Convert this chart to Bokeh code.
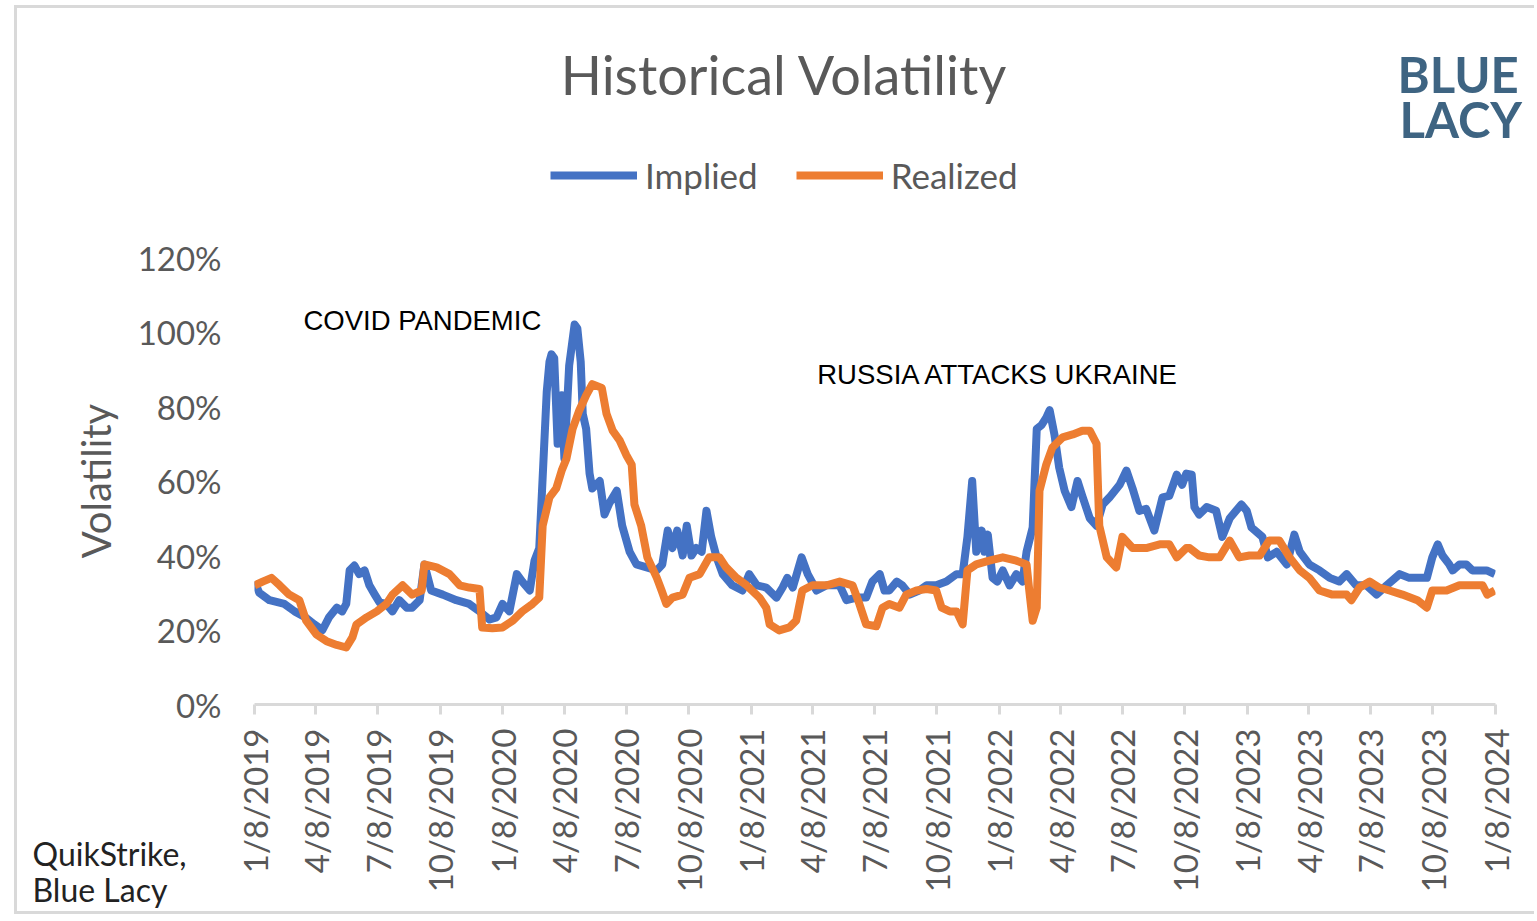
import math
from datetime import datetime
from bokeh.plotting import figure
from bokeh.layouts import row, column
from bokeh.models import (Range1d, FixedTicker, CustomJSTickFormatter, PrintfTickFormatter,
                          Legend, LegendItem, Label)
from bokeh.embed import file_html
from bokeh.resources import INLINE

# ---------------- data ----------------
tick_labels = ["1/8/2019", "4/8/2019", "7/8/2019", "10/8/2019", "1/8/2020", "4/8/2020",
               "7/8/2020", "10/8/2020", "1/8/2021", "4/8/2021", "7/8/2021", "10/8/2021",
               "1/8/2022", "4/8/2022", "7/8/2022", "10/8/2022", "1/8/2023", "4/8/2023",
               "7/8/2023", "10/8/2023", "1/8/2024"]
y_ticks = [0, 20, 40, 60, 80, 100, 120]

implied_dates = [
    "2019-01-08", "2019-01-15", "2019-01-30", "2019-02-21", "2019-03-08", "2019-03-23", "2019-04-06",
    "2019-04-18", "2019-04-28", "2019-05-09", "2019-05-17", "2019-05-23", "2019-05-28", "2019-06-04",
    "2019-06-11", "2019-06-19", "2019-06-26", "2019-07-04", "2019-07-11", "2019-07-21", "2019-07-30",
    "2019-08-09", "2019-08-20", "2019-08-28", "2019-09-08", "2019-09-15", "2019-09-25", "2019-10-12",
    "2019-11-01", "2019-11-20", "2019-12-05", "2019-12-20", "2019-12-30", "2020-01-08", "2020-01-18",
    "2020-01-29", "2020-02-06", "2020-02-17", "2020-02-24", "2020-03-02", "2020-03-07", "2020-03-13",
    "2020-03-17", "2020-03-20", "2020-03-24", "2020-03-29", "2020-04-04", "2020-04-08", "2020-04-15",
    "2020-04-23", "2020-04-27", "2020-05-02", "2020-05-05", "2020-05-10", "2020-05-15", "2020-05-19",
    "2020-05-30", "2020-06-06", "2020-06-13", "2020-06-24", "2020-07-02", "2020-07-13", "2020-07-23",
    "2020-08-07", "2020-08-22", "2020-08-30", "2020-09-07", "2020-09-14", "2020-09-21", "2020-09-29",
    "2020-10-05", "2020-10-12", "2020-10-19", "2020-10-27", "2020-11-03", "2020-11-10", "2020-11-18",
    "2020-11-27", "2020-12-11", "2020-12-26", "2021-01-05", "2021-01-16", "2021-01-30", "2021-02-14",
    "2021-02-23", "2021-03-02", "2021-03-10", "2021-03-23", "2021-04-01", "2021-04-14", "2021-04-29",
    "2021-05-18", "2021-05-28", "2021-06-12", "2021-06-26", "2021-07-05", "2021-07-16", "2021-07-23",
    "2021-07-30", "2021-08-10", "2021-08-18", "2021-08-29", "2021-09-12", "2021-09-23", "2021-10-07",
    "2021-10-22", "2021-11-06", "2021-11-15", "2021-11-22", "2021-11-29", "2021-12-05", "2021-12-13",
    "2021-12-17", "2021-12-22", "2021-12-29", "2022-01-05", "2022-01-13", "2022-01-23", "2022-02-02",
    "2022-02-11", "2022-02-17", "2022-02-26", "2022-03-04", "2022-03-11", "2022-03-18", "2022-03-23",
    "2022-03-30", "2022-04-06", "2022-04-14", "2022-04-24", "2022-05-03", "2022-05-10", "2022-05-21",
    "2022-05-31", "2022-06-09", "2022-06-19", "2022-07-04", "2022-07-14", "2022-07-23", "2022-08-02",
    "2022-08-12", "2022-08-24", "2022-09-05", "2022-09-15", "2022-09-26", "2022-10-04", "2022-10-10",
    "2022-10-18", "2022-10-22", "2022-10-29", "2022-11-09", "2022-11-23", "2022-12-02", "2022-12-13",
    "2022-12-30", "2023-01-07", "2023-01-14", "2023-01-30", "2023-02-07", "2023-02-20", "2023-03-07",
    "2023-03-18", "2023-03-26", "2023-04-09", "2023-04-24", "2023-05-09", "2023-05-23", "2023-06-03",
    "2023-06-17", "2023-07-02", "2023-07-17", "2023-08-01", "2023-08-20", "2023-09-03", "2023-09-18",
    "2023-09-29", "2023-10-07", "2023-10-15", "2023-10-22", "2023-11-01", "2023-11-06", "2023-11-16",
    "2023-11-26", "2023-12-05", "2023-12-26", "2024-01-07"]
implied_vals = [
    33, 30, 28, 27, 25, 23.5, 21.5,
    20, 23.5, 26, 25, 27, 36, 37.3,
    35, 36, 32, 29.5, 27.4, 27, 25,
    28, 26, 26, 28, 37.6, 30.6, 29.5,
    28, 27, 25, 22.8, 23.4, 27, 25,
    35, 33, 30.6, 38.6, 42, 61, 84,
    92, 94, 93, 70, 83, 66, 91,
    102, 101, 92, 78, 74, 62, 58,
    60, 51, 54, 57.4, 48, 41, 37.6,
    36.8, 36, 37.6, 46.7, 42, 46.7, 40,
    48, 40, 42, 41, 52, 45, 39.5,
    35, 32, 30.6, 35, 32, 31.4, 28.7,
    31.4, 34, 31.4, 39.5, 35, 30.6, 32,
    32, 28, 28.7, 28.7, 33, 35, 30.6,
    30.6, 33, 32, 29.5, 30.6, 32, 32,
    33, 35, 35, 45, 60, 41, 46.7,
    41, 45.6, 34, 33, 36, 32, 35,
    33, 41, 47.5, 74, 75, 77, 79,
    72.5, 63.6, 57.4, 53, 60, 56, 50,
    48, 53.7, 55.6, 59, 62.8, 58, 52,
    52.5, 46.7, 55.6, 56, 61.7, 59, 62,
    61.7, 53, 51, 53, 52, 45, 50,
    53.7, 52, 47.5, 45, 39.5, 41, 37.6,
    45.6, 41, 37.6, 36, 34, 33, 35,
    32, 32, 29.5, 32, 35, 34, 34,
    34, 39.5, 43, 40, 37.6, 36, 37.6,
    37.6, 36, 36, 35]

realized_dates = [
    "2019-01-08", "2019-01-20", "2019-02-02", "2019-02-14", "2019-02-28", "2019-03-15", "2019-03-25",
    "2019-04-09", "2019-04-24", "2019-05-09", "2019-05-23", "2019-06-01", "2019-06-07", "2019-06-22",
    "2019-07-07", "2019-07-21", "2019-07-30", "2019-08-14", "2019-08-28", "2019-09-11", "2019-09-15",
    "2019-10-03", "2019-10-22", "2019-11-06", "2019-11-20", "2019-12-05", "2019-12-09", "2019-12-24",
    "2020-01-08", "2020-01-23", "2020-02-06", "2020-02-21", "2020-03-02", "2020-03-07", "2020-03-17",
    "2020-03-27", "2020-04-04", "2020-04-11", "2020-04-20", "2020-04-30", "2020-05-10", "2020-05-19",
    "2020-06-02", "2020-06-09", "2020-06-18", "2020-06-28", "2020-07-08", "2020-07-16", "2020-07-20",
    "2020-07-30", "2020-08-08", "2020-08-22", "2020-08-29", "2020-09-05", "2020-09-14", "2020-09-29",
    "2020-10-09", "2020-10-24", "2020-11-07", "2020-11-22", "2020-12-02", "2020-12-17", "2021-01-01",
    "2021-01-20", "2021-01-30", "2021-02-04", "2021-02-18", "2021-03-05", "2021-03-15", "2021-03-24",
    "2021-04-08", "2021-04-29", "2021-05-18", "2021-06-06", "2021-06-16", "2021-06-26", "2021-07-11",
    "2021-07-20", "2021-07-30", "2021-08-14", "2021-08-24", "2021-09-08", "2021-09-23", "2021-10-07",
    "2021-10-15", "2021-10-27", "2021-11-06", "2021-11-15", "2021-11-22", "2021-12-05", "2021-12-24",
    "2022-01-13", "2022-02-02", "2022-02-17", "2022-02-21", "2022-02-26", "2022-03-04", "2022-03-08",
    "2022-03-18", "2022-03-27", "2022-04-11", "2022-04-26", "2022-05-10", "2022-05-21", "2022-05-31",
    "2022-06-04", "2022-06-15", "2022-06-29", "2022-07-08", "2022-07-23", "2022-08-12", "2022-09-01",
    "2022-09-15", "2022-09-26", "2022-10-10", "2022-10-15", "2022-10-29", "2022-11-13", "2022-11-28",
    "2022-12-13", "2022-12-27", "2023-01-11", "2023-01-26", "2023-02-09", "2023-02-24", "2023-03-11",
    "2023-03-26", "2023-04-09", "2023-04-24", "2023-05-13", "2023-06-03", "2023-06-10", "2023-06-22",
    "2023-07-07", "2023-07-21", "2023-08-05", "2023-08-24", "2023-09-15", "2023-09-29", "2023-10-07",
    "2023-10-28", "2023-11-16", "2023-12-05", "2023-12-20", "2023-12-27", "2024-01-07"]
realized_vals = [
    32, 33, 34, 32, 29.5, 28, 22.5,
    18.8, 17, 16, 15.3, 18, 21.5, 23.4,
    25, 27, 29.5, 32, 29.5, 30.6, 37.6,
    36.8, 35, 32, 31.4, 31, 20.7, 20.5,
    20.7, 22.5, 25, 27, 28.7, 48, 55.6,
    58, 62.8, 66, 74, 79, 83, 86,
    85, 78, 73.5, 71, 67, 64.4, 53.7,
    48, 39.5, 34, 30.6, 27, 28.7, 29.5,
    34, 35, 39.5, 39.5, 36.8, 34, 32,
    28.7, 26, 21.5, 19.9, 20.7, 22.5, 30.6,
    32, 32, 33, 32, 27, 21.5, 21,
    26, 27, 26, 29.5, 30.6, 31, 30.6,
    26, 25, 25, 21.5, 36, 37.6, 38.6,
    39.5, 38.6, 37.6, 30.6, 22.5, 26, 57.4,
    64.4, 69, 71.7, 72.5, 73.5, 73.5, 70,
    48, 39.5, 36.8, 45, 42, 42, 43,
    43, 39.5, 42, 42, 40, 39.5, 39.5,
    44, 39.5, 40, 40, 44, 44, 39.5,
    36, 34, 30.6, 29.5, 29.5, 28, 31.4,
    33, 31.4, 30.6, 29.5, 28, 26, 30.6,
    30.6, 32, 32, 32, 29.5, 30.6]

series_names = ["Implied", "Realized"]
series_colors = ["#4472C4", "#ED7D31"]

# ---------------- helpers ----------------
EPOCH = datetime(1970, 1, 1)


def to_ms(dt):
    return (dt - EPOCH).total_seconds() * 1000.0


def iso(s):
    return datetime.strptime(s, "%Y-%m-%d")


tick_ms = [to_ms(datetime.strptime(t, "%m/%d/%Y")) for t in tick_labels]
implied_x = [iso(d) for d in implied_dates]
realized_x = [iso(d) for d in realized_dates]

GREY = "#595959"
FONT = "Lato"
LOGO = "#3e6482"
BORDER = "3px solid #d9d9d9"

# ---- layout (pixels, canvases are content-box; borders are added outside) ----
HEAD_W, HEAD_H = 1520, 232      # header canvas: title, logo, legend
LEFT_W, MAIN_W = 218, 1302      # y-axis strip and chart canvases
TOP = 20                        # room above 120% for its tick label
FRAME_H = 447                   # 0% .. 120%
BOTTOM = 210
BODY_H = TOP + FRAME_H + BOTTOM

y_range = Range1d(0, 120)


def bare(fig):
    fig.title.visible = False
    fig.outline_line_color = None
    fig.background_fill_color = "white"
    fig.border_fill_color = "white"
    fig.xgrid.visible = False
    fig.ygrid.visible = False


# ---------------- header ----------------
h = figure(width=HEAD_W, height=HEAD_H, x_axis_location=None, y_axis_location=None,
           x_range=Range1d(0, HEAD_W), y_range=Range1d(0, HEAD_H),
           output_backend="svg", toolbar_location=None,
           min_border_left=215, min_border_right=0, min_border_top=0, min_border_bottom=0)
bare(h)
h.styles = {"border-top": BORDER, "border-left": BORDER, "margin-top": "5px", "margin-left": "14px"}

# legend swatches: renderers holding no drawable point, they only feed the legend
nan = float("nan")
lg1 = h.line([nan], [nan], line_color=series_colors[0], line_width=8)
lg2 = h.line([nan], [nan], line_color=series_colors[1], line_width=8)
legend = Legend(items=[LegendItem(label=series_names[0], renderers=[lg1]),
                       LegendItem(label=series_names[1], renderers=[lg2])],
                location=(318, 44), orientation="horizontal",
                background_fill_alpha=0, border_line_alpha=0,
                label_text_font=FONT, label_text_font_size="35px", label_text_color=GREY,
                glyph_width=87, glyph_height=40, label_height=40, label_standoff=8,
                spacing=38, padding=0, margin=0)
h.add_layout(legend)

h.add_layout(Label(x=764, y=63, x_units="canvas", y_units="canvas", text="Historical Volatility",
                   text_font=FONT, text_font_size="54px", text_color=GREY,
                   text_align="center", text_baseline="middle"))
h.add_layout(Label(x=1377, y=62, x_units="canvas", y_units="canvas", text="BLUE",
                   text_font=FONT, text_font_size="49px", text_font_style="bold", text_color=LOGO,
                   text_align="left", text_baseline="middle"))
h.add_layout(Label(x=1379, y=107, x_units="canvas", y_units="canvas", text="LACY",
                   text_font=FONT, text_font_size="49px", text_font_style="bold", text_color=LOGO,
                   text_align="left", text_baseline="middle"))

# ---------------- main chart ----------------
p = figure(width=MAIN_W, height=BODY_H, x_axis_type="datetime", y_axis_location=None,
           x_range=Range1d(tick_ms[0], tick_ms[-1]), y_range=y_range,
           output_backend="svg", toolbar_location=None,
           min_border_left=22, min_border_right=39, min_border_top=TOP, min_border_bottom=BOTTOM)
bare(p)
p.styles = {"border-bottom": BORDER}

xa = p.xaxis[0]
xa.ticker = FixedTicker(ticks=tick_ms)
xa.formatter = CustomJSTickFormatter(
    args=dict(tvals=tick_ms, tlabels=tick_labels),
    code="const i = tvals.indexOf(tick); return i >= 0 ? tlabels[i] : '';")
xa.major_label_orientation = math.pi / 2
xa.axis_line_color = "#d9d9d9"
xa.axis_line_width = 3
xa.major_tick_line_color = "#d9d9d9"
xa.major_tick_line_width = 3
xa.major_tick_out = 10
xa.major_tick_in = 0
xa.minor_tick_line_color = None
xa.major_label_text_font = FONT
xa.major_label_text_font_size = "33px"
xa.major_label_text_color = GREY
xa.major_label_standoff = 14

p.line(implied_x, implied_vals, line_color=series_colors[0], line_width=8, line_join="round")
p.line(realized_x, realized_vals, line_color=series_colors[1], line_width=8, line_join="round")

p.add_layout(Label(x=to_ms(iso("2019-03-21")), y=103.2, text="COVID PANDEMIC",
                   text_font="Liberation Sans", text_font_size="27.5px", text_color="black",
                   text_baseline="middle", text_align="left"))
p.add_layout(Label(x=to_ms(iso("2021-04-15")), y=88.6, text="RUSSIA ATTACKS UKRAINE",
                   text_font="Liberation Sans", text_font_size="27.5px", text_color="black",
                   text_baseline="middle", text_align="left"))

# ---------------- left strip: y axis, axis title, source note ----------------
q = figure(width=LEFT_W, height=BODY_H, x_axis_location=None,
           x_range=Range1d(0, 1), y_range=y_range,
           output_backend="svg", toolbar_location=None,
           min_border_left=LEFT_W - 3, min_border_right=0,
           min_border_top=TOP, min_border_bottom=BOTTOM)
bare(q)
q.styles = {"border-left": BORDER, "border-bottom": BORDER, "margin-left": "14px"}

ya = q.yaxis[0]
ya.ticker = FixedTicker(ticks=y_ticks)
ya.formatter = PrintfTickFormatter(format="%d%%")
ya.axis_line_color = None
ya.major_tick_line_color = None
ya.minor_tick_line_color = None
ya.major_label_text_font = FONT
ya.major_label_text_font_size = "33px"
ya.major_label_text_color = GREY
ya.major_label_standoff = 5
ya.axis_label = "Volatility"
ya.axis_label_text_font = FONT
ya.axis_label_text_font_size = "40px"
ya.axis_label_text_font_style = "normal"
ya.axis_label_text_color = GREY
ya.axis_label_standoff = 15

q.add_layout(Label(x=12, y=616, x_units="canvas", y_units="canvas", text="QuikStrike,",
                   text_font=FONT, text_font_size="32px", text_color="#222222",
                   text_align="left", text_baseline="middle"), "below")
q.add_layout(Label(x=12, y=652, x_units="canvas", y_units="canvas", text="Blue Lacy",
                   text_font=FONT, text_font_size="32px", text_color="#222222",
                   text_align="left", text_baseline="middle"), "below")

layout = column(h, row(q, p))
open("out.html", "w").write(file_html(layout, INLINE))
